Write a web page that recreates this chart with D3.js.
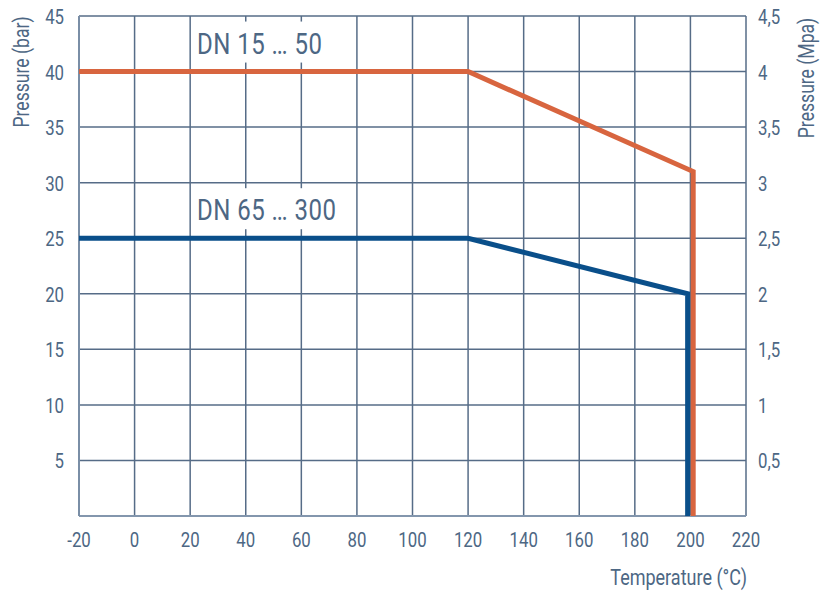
<!DOCTYPE html>
<html>
<head>
<meta charset="utf-8">
<script src="https://cdn.jsdelivr.net/npm/d3@7"></script>
<style>
  body { margin: 0; background: #fff; }
  text { font-family: "Roboto", "Liberation Sans", sans-serif; fill: #4d6784; }
</style>
</head>
<body>
<svg id="chart" width="832" height="592"></svg>
<script>
// Data
const xTicks = [-20, 0, 20, 40, 60, 80, 100, 120, 140, 160, 180, 200, 220];
const yTicks = [5, 10, 15, 20, 25, 30, 35, 40, 45];
const yTicksMpa = ["0,5", "1", "1,5", "2", "2,5", "3", "3,5", "4", "4,5"];

const smallTemp = [-20, 120, 201, 201];
const smallPress = [40, 40, 31, 0];
const largeTemp = [-20, 120, 199, 199];
const largePress = [25, 25, 20, 0];

const seriesNames = ["DN 15 … 50", "DN 65 … 300"];
const seriesLevels = [40, 25];

// Layout
const margin = { top: 16, left: 79, right: 86, bottom: 76 };
const svg = d3.select("#chart");
const width = 832 - margin.left - margin.right;
const height = 592 - margin.top - margin.bottom;
const ctr = svg.append("g").attr("transform", `translate(${margin.left}, ${margin.top})`);

const xScale = d3.scaleLinear().domain([-20, 220]).range([0, width]);
const yScale = d3.scaleLinear().domain([0, 45]).range([height, 0]);

const gridColor = "#566c87";
const squeeze = 0.8; // condensed look

// condensed text helper
function label(parent, x, y, str, anchor, size, rot = 0) {
  return parent
    .append("text")
    .attr("transform", `translate(${x}, ${y}) rotate(${rot}) scale(${squeeze}, 1)`)
    .attr("text-anchor", anchor)
    .style("font-size", size + "px")
    .text(str);
}

// Grid
ctr.selectAll(".vgrid")
  .data(xTicks)
  .join("line")
  .attr("x1", (d) => xScale(d))
  .attr("x2", (d) => xScale(d))
  .attr("y1", 0)
  .attr("y2", height)
  .attr("stroke", gridColor)
  .attr("stroke-width", 1.5);

ctr.selectAll(".hgrid")
  .data(yTicks)
  .join("line")
  .attr("x1", 0)
  .attr("x2", width)
  .attr("y1", (d) => yScale(d))
  .attr("y2", (d) => yScale(d))
  .attr("stroke", gridColor)
  .attr("stroke-width", 1.5);

// Bottom + left frame
ctr.append("line")
  .attr("x1", 0).attr("x2", width)
  .attr("y1", height).attr("y2", height)
  .attr("stroke", "#8396ad").attr("stroke-width", 2);
ctr.append("line")
  .attr("x1", 0).attr("x2", 0)
  .attr("y1", 0).attr("y2", height)
  .attr("stroke", "#7a8ea6").attr("stroke-width", 2);

// Tick labels
xTicks.forEach((d) => label(ctr, xScale(d), height + 31, d, "middle", 21));
yTicks.forEach((d) => label(ctr, -15, yScale(d) + 8, d, "end", 21));
yTicks.forEach((d, i) => label(ctr, width + 12, yScale(d) + 8, yTicksMpa[i], "start", 21));

// Axis titles
label(svg, 29, 72, "Pressure (bar)", "middle", 22, -90);
label(svg, 814, 78, "Pressure (Mpa)", "middle", 22, -90);
label(svg, 747, 585, "Temperature (°C)", "end", 22.5);

// Lines
const line = d3.line()
  .x((d) => xScale(d[0]))
  .y((d) => yScale(d[1]));

const largeData = largeTemp.map((t, i) => [t, largePress[i]]);
const smallData = smallTemp.map((t, i) => [t, smallPress[i]]);

ctr.append("path")
  .datum(largeData)
  .attr("fill", "none")
  .attr("stroke", "#0a4f8a")
  .attr("stroke-width", 5)
  .attr("d", line);

ctr.append("path")
  .datum(smallData)
  .attr("fill", "none")
  .attr("stroke", "#d8653f")
  .attr("stroke-width", 5)
  .attr("d", line);

// Series labels with white backing
seriesNames.forEach((name, i) => {
  const g = ctr.append("g");
  const bx = xScale(-20) + 118;
  const by = yScale(seriesLevels[i]) - 18;
  const t = label(g, bx, by, name, "start", 30).style("letter-spacing", "0.6px");
  const w = t.node().getBBox().width * squeeze;
  g.insert("rect", "text")
    .attr("x", bx - 4)
    .attr("y", by - 32)
    .attr("width", w + 8)
    .attr("height", 41)
    .attr("fill", "#fff");
});
</script>
</body>
</html>
